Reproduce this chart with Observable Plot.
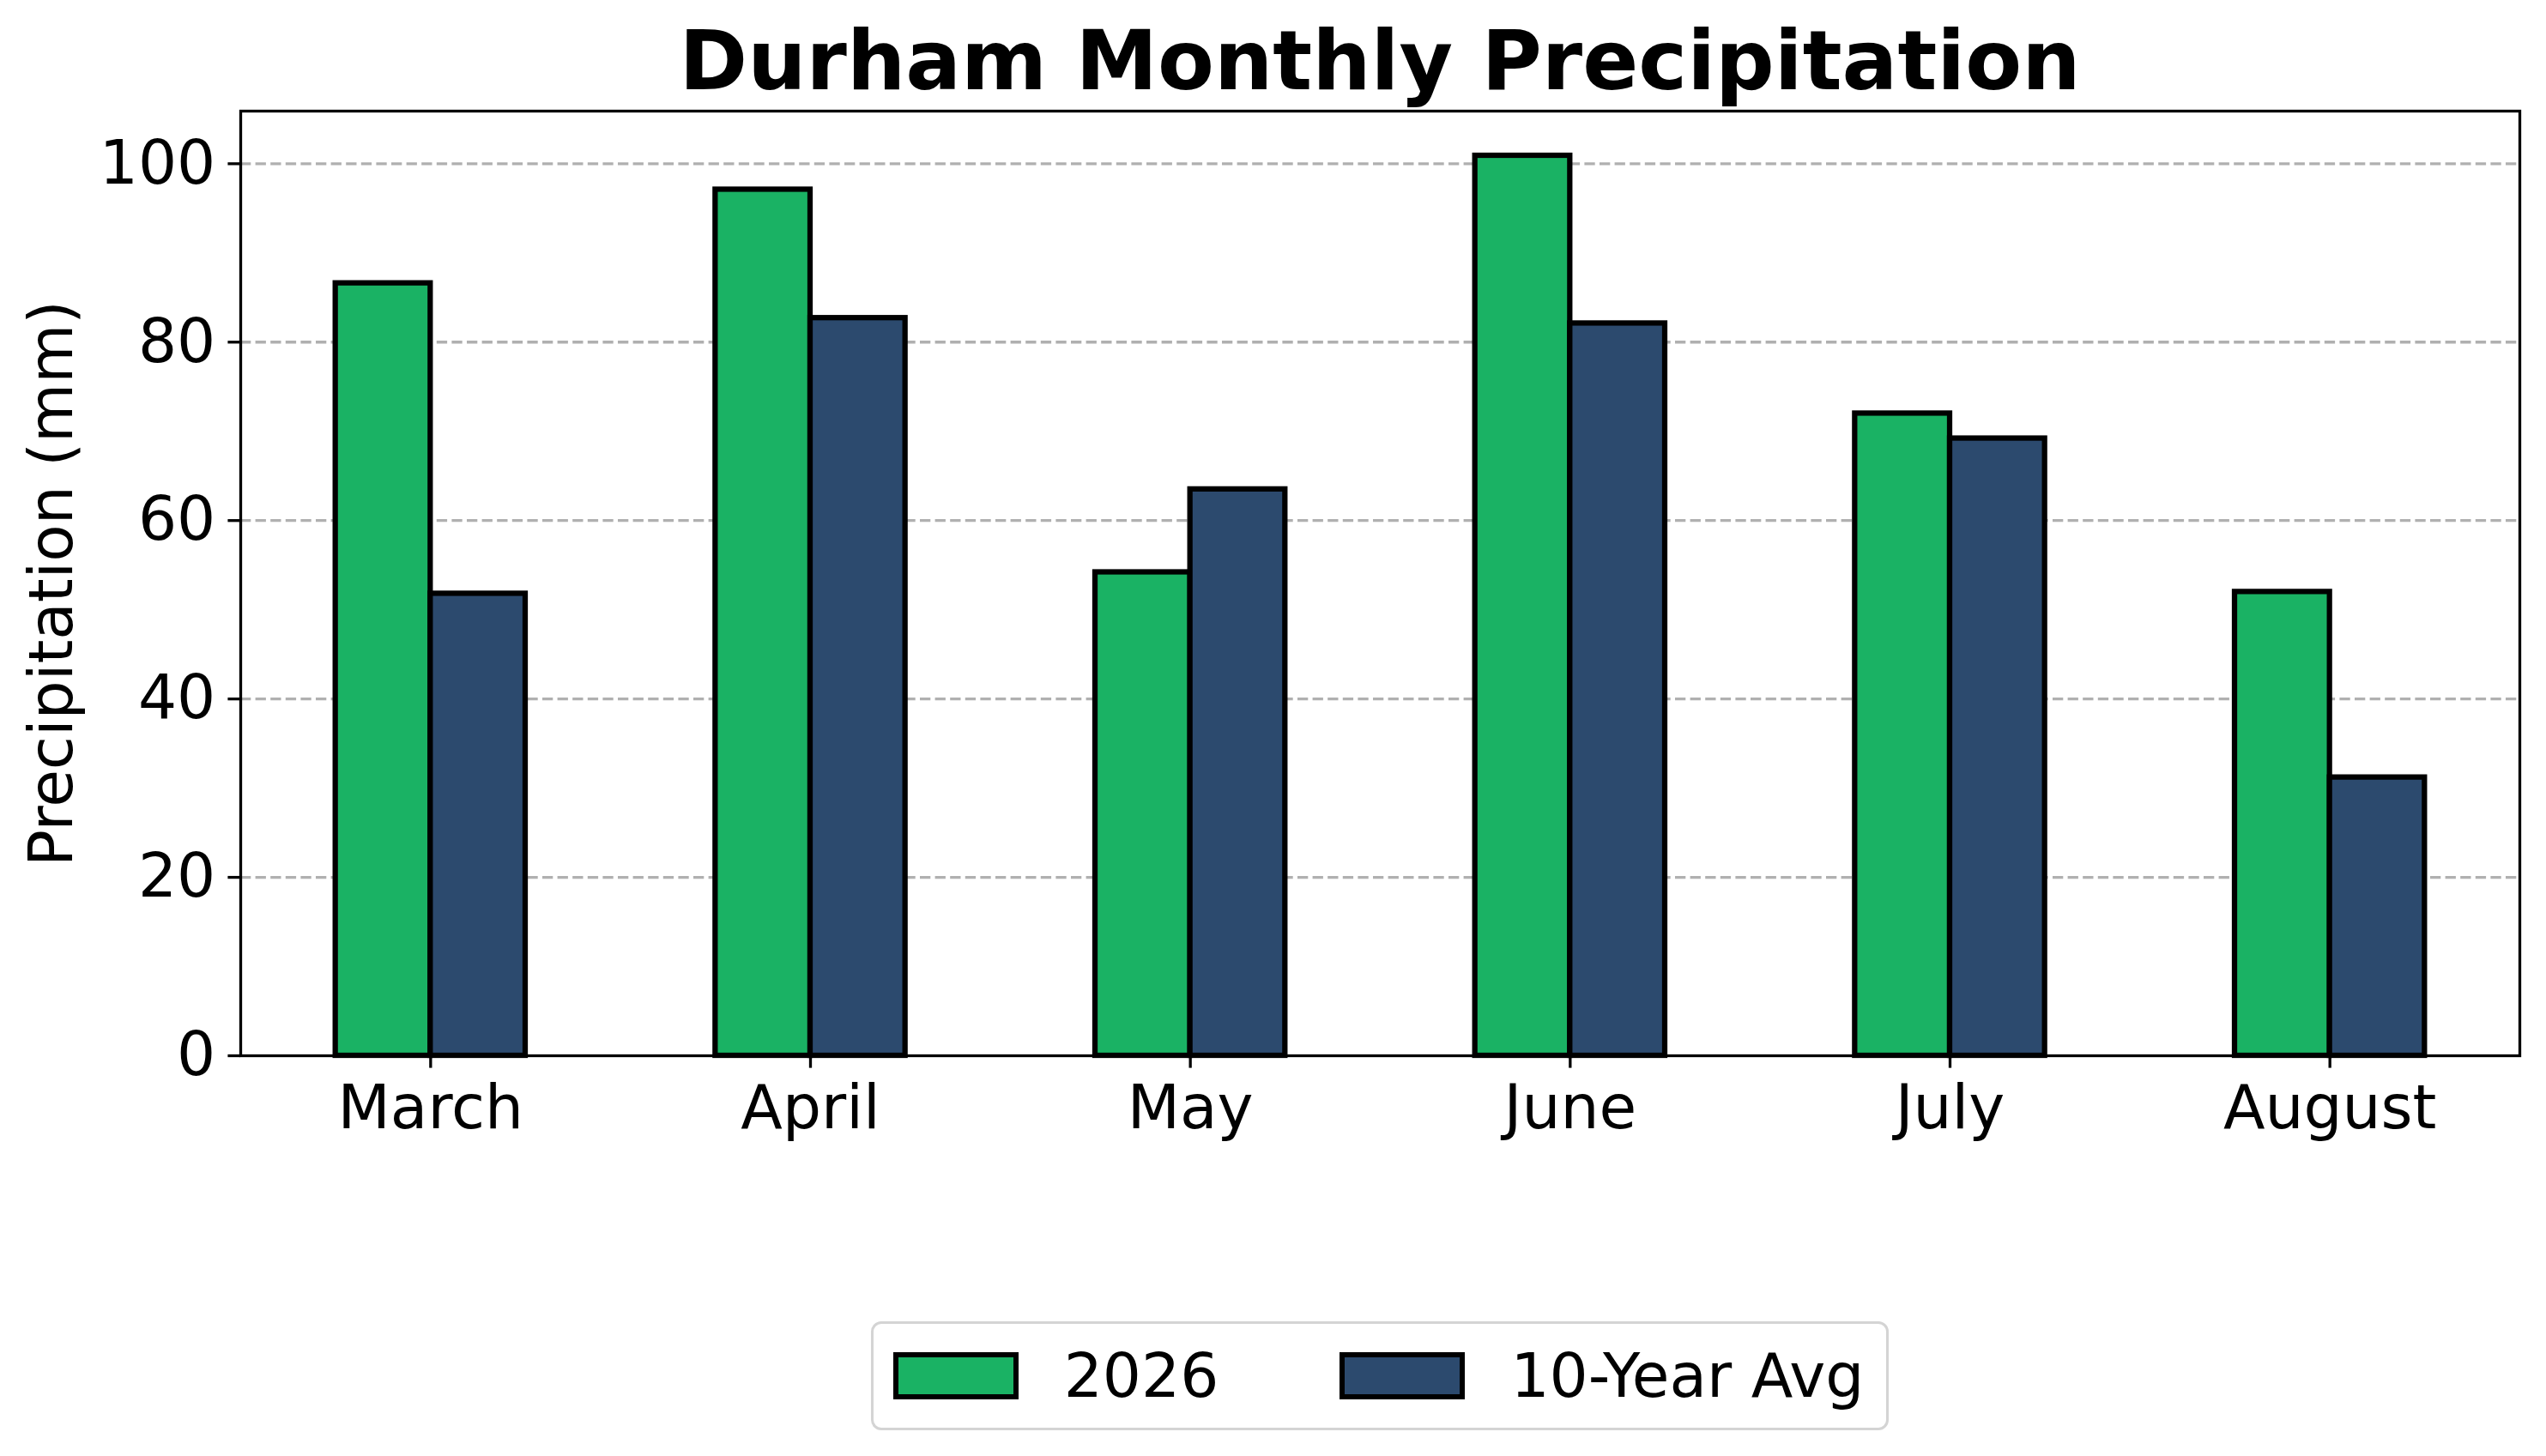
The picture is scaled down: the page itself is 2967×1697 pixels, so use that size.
<!DOCTYPE html>
<html>
<head>
<meta charset="utf-8">
<script src="https://cdn.jsdelivr.net/npm/d3@7"></script>
<script src="https://cdn.jsdelivr.net/npm/@observablehq/plot@0.6"></script>
<style>
  html, body { margin: 0; padding: 0; background: #fff; }
  body { width: 2967px; height: 1697px; overflow: hidden; font-family: "DejaVu Sans", sans-serif; }
  #title { height: 120px; box-sizing: border-box; padding-top: 23px; margin-left: 280px; width: 2656px;
           text-align: center; font-size: 96px; line-height: 1; font-weight: bold; color: #000; white-space: nowrap; }
  #legwrap { margin-left: 280px; width: 2656px; display: flex; justify-content: center; margin-top: 200px; }
  #legend { display: flex; align-items: center; box-sizing: border-box; height: 127px;
            border: 3px solid #d4d4d4; border-radius: 12px; padding: 0 26px 0 23px; background: #fff; }
  .sw { width: 146px; height: 55px; box-sizing: border-box; border: 6px solid #000; }
  .lt { font-size: 71px; line-height: 1; margin-left: 53px; color: #000; white-space: nowrap; }
  .gap { width: 141px; }
</style>
</head>
<body>
<div id="title">Durham Monthly Precipitation</div>
<div id="chart"></div>
<div id="legwrap"><div id="legend"></div></div>
<script>
const months = ["March", "April", "May", "June", "July", "August"];
const series = ["2026", "10-Year Avg"];
const values2026 = [86.6, 97.1, 54.2, 100.9, 72.0, 52.0];
const valuesAvg = [51.8, 82.7, 63.5, 82.1, 69.2, 31.2];
const colors = ["#1ab264", "#2c4a6e"];
const yTicks = [0, 20, 40, 60, 80, 100];
const gridTicks = [20, 40, 60, 80, 100];

const barWidth = 0.25;
const rows = [];
months.forEach((m, i) => {
  rows.push({month: m, i, series: series[0], value: values2026[i], x1: i - barWidth, x2: i});
  rows.push({month: m, i, series: series[1], value: valuesAvg[i], x1: i, x2: i + barWidth});
});

const plot = Plot.plot({
  width: 2967,
  height: 1220,
  marginLeft: 280,
  marginRight: 31,
  marginTop: 9,
  marginBottom: 110,
  style: {fontFamily: "DejaVu Sans", fontSize: "71px", background: "#fff", color: "#000"},
  x: {type: "linear", domain: [-0.5, 5.5]},
  y: {domain: [0, 105.9]},
  color: {domain: series, range: colors},
  marks: [
    Plot.ruleY(gridTicks, {stroke: "#b0b0b0", strokeWidth: 3.3, strokeDasharray: "12.3,5.3"}),
    Plot.rect(rows, {x1: "x1", x2: "x2", y1: 0, y2: "value", fill: "series", stroke: "#000", strokeWidth: 6.25}),
    Plot.frame({stroke: "#000", strokeWidth: 3.3}),
    Plot.axisY({ticks: yTicks, tickSize: 14.6, tickPadding: 14.6, strokeWidth: 3.3, label: null, fontSize: 71}),
    Plot.axisX({ticks: months.map((_, i) => i), tickFormat: i => months[i], tickSize: 14.6, tickPadding: 19, strokeWidth: 3.3, label: null, fontSize: 71}),
    Plot.text(["Precipitation (mm)"], {text: d => d, frameAnchor: "left", rotate: -90, dx: -219, lineAnchor: "middle", textAnchor: "middle", fontSize: 71, fill: "#000"})
  ]
});
document.getElementById("chart").appendChild(plot);

const leg = document.getElementById("legend");
series.forEach((s, k) => {
  if (k > 0) { const g = document.createElement("div"); g.className = "gap"; leg.appendChild(g); }
  const sw = document.createElement("div"); sw.className = "sw"; sw.style.background = colors[k]; leg.appendChild(sw);
  const t = document.createElement("div"); t.className = "lt"; t.textContent = s; leg.appendChild(t);
});
</script>
</body>
</html>
